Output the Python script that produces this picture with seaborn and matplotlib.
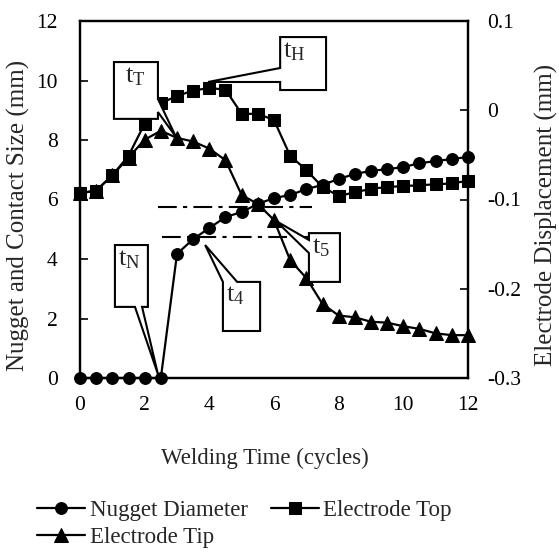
import numpy as np
import pandas as pd
import matplotlib
matplotlib.use("Agg")
import matplotlib.pyplot as plt
from matplotlib.patches import Polygon
import seaborn as sns

# ---- data -------------------------------------------------------------
cycles = [0, 0.5, 1, 1.5, 2, 2.5, 3, 3.5, 4, 4.5, 5, 5.5, 6, 6.5, 7, 7.5,
          8, 8.5, 9, 9.5, 10, 10.5, 11, 11.5, 12]
nugget_diameter = [0, 0, 0, 0, 0, 0, 4.17, 4.67, 5.04, 5.41, 5.58, 5.85,
                   6.05, 6.15, 6.35, 6.49, 6.69, 6.86, 6.96, 7.02, 7.09,
                   7.22, 7.29, 7.36, 7.43]
electrode_top = [-0.093, -0.090, -0.073, -0.051, -0.015, 0.008, 0.016,
                 0.022, 0.025, 0.023, -0.004, -0.004, -0.011, -0.051,
                 -0.067, -0.086, -0.096, -0.092, -0.088, -0.086, -0.085,
                 -0.084, -0.083, -0.082, -0.079]
electrode_tip = [-0.093, -0.090, -0.073, -0.053, -0.033, -0.023, -0.031,
                 -0.035, -0.043, -0.056, -0.095, -0.105, -0.123, -0.168,
                 -0.188, -0.217, -0.230, -0.232, -0.237, -0.238, -0.242,
                 -0.245, -0.250, -0.252, -0.252]

x_ticks = [0, 2, 4, 6, 8, 10, 12]
left_ticks = [0, 2, 4, 6, 8, 10, 12]
right_ticks = [-0.3, -0.2, -0.1, 0, 0.1]
right_tick_labels = ["-0.3", "-0.2", "-0.1", "0", "0.1"]

# reference nugget sizes (dash-dot guides)
guide_levels = [4.74, 5.75]
guide_spans = [(2.54, 7.2), (2.41, 7.18)]

# callouts: label, box (x0, x1, y0, y1), side, wedge base, tip
callouts = [
    ("T", (1.05, 2.41, 8.71, 10.62), "right", (8.94, 9.38), (2.97, 8.10)),
    ("H", (6.19, 7.61, 9.68, 11.46), "left", (9.95, 10.42), (3.96, 9.95)),
    ("N", (1.08, 2.10, 2.39, 4.47), "bottom", (1.70, 1.92), (2.41, 0.13)),
    ("4", (4.42, 5.57, 1.58, 3.23), "top", (4.42, 4.86), (3.87, 4.47)),
    ("5", (7.08, 8.04, 3.23, 4.87), "left", (4.20, 4.64), (6.06, 5.28)),
]

df = pd.DataFrame({"cycles": cycles, "nugget": nugget_diameter,
                   "top": electrode_top, "tip": electrode_tip})

# ---- style ------------------------------------------------------------
sns.set_theme(style="white")
plt.rcParams["font.family"] = ["Liberation Serif", "DejaVu Serif"]
plt.rcParams["mathtext.fontset"] = "custom"
plt.rcParams["mathtext.rm"] = "Liberation Serif"
plt.rcParams["axes.unicode_minus"] = False

fig = plt.figure(figsize=(5.59, 5.54), dpi=100)
ax = fig.add_axes([80 / 559, 1 - 378 / 554, 388 / 559, 357 / 554])
ax2 = ax.twinx()

line_kw = dict(color="black", linewidth=1.6, markersize=8.5,
               markeredgecolor="black", clip_on=False, errorbar=None)

sns.lineplot(data=df, x="cycles", y="nugget", marker="o", ax=ax, zorder=4,
             **line_kw)
h_nugget = ax.lines[-1]
sns.lineplot(data=df, x="cycles", y="top", marker="s", ax=ax2, zorder=4,
             **line_kw)
h_top = ax2.lines[-1]
sns.lineplot(data=df, x="cycles", y="tip", marker="^", ax=ax2, zorder=4,
             **{**line_kw, "markersize": 9.5})
h_tip = ax2.lines[-1]

# dash-dot guide lines
for level, (x0, x1) in zip(guide_levels, guide_spans):
    ax.plot([x0, x1], [level, level], color="black", linewidth=1.5,
            linestyle=(0, (9, 3, 2, 3)), zorder=3)

# axes ranges and ticks
ax.set_xlim(0, 12)
ax.set_ylim(0, 12)
ax2.set_ylim(-0.3, 0.1)
ax.set_xticks(x_ticks)
ax.set_yticks(left_ticks)
ax2.set_yticks(right_ticks)
ax2.set_yticklabels(right_tick_labels)

for a in (ax, ax2):
    for s in a.spines.values():
        s.set_linewidth(1.6)
        s.set_color("black")
ax.tick_params(axis="both", direction="in", length=6, width=1.2,
               labelsize=15.5, pad=16, colors="black")
ax.tick_params(axis="x", pad=13)
ax2.tick_params(axis="y", direction="in", length=6, width=1.2,
                labelsize=15.5, pad=14, colors="black")

ax.set_xlabel("Welding Time (cycles)", fontsize=16.5, va="center")
ax.xaxis.set_label_coords((265 - 80) / 388, -(458 - 378) / 357)
ax.set_ylabel("Nugget and Contact Size (mm)", fontsize=18, va="center")
ax.yaxis.set_label_coords(-(80 - 18) / 388, 1 - (215 - 21) / 357)
ax2.set_ylabel("Electrode Displacement (mm)", fontsize=18, va="center")
ax2.yaxis.set_label_coords((546 - 80) / 388, 1 - (215 - 21) / 357)

# callout boxes with wedge pointers
for name, (x0, x1, y0, y1), side, (b_lo, b_hi), tip in callouts:
    pts = [(x0, y0)]
    if side == "bottom":
        pts += [(b_lo, y0), tip, (b_hi, y0)]
    pts.append((x1, y0))
    if side == "right":
        pts += [(x1, b_lo), tip, (x1, b_hi)]
    pts.append((x1, y1))
    if side == "top":
        pts += [(b_hi, y1), tip, (b_lo, y1)]
    pts.append((x0, y1))
    if side == "left":
        pts += [(x0, b_hi), tip, (x0, b_lo)]
    poly = Polygon(pts, closed=True, facecolor="white", edgecolor="black",
                   linewidth=1.5, transform=ax.transData, zorder=6,
                   clip_on=False)
    ax2.add_patch(poly)
    dx = 0.33 if name == "T" else 0.1
    ax2.text(x0 + dx, y1 - 0.1, r"$\mathregular{t_{%s}}$" % name,
             transform=ax.transData, ha="left", va="top", fontsize=19,
             zorder=7)

# legend
fig.legend([h_nugget, h_tip, h_top],
           ["Nugget Diameter", "Electrode Tip", "Electrode Top"],
           loc="upper left", bbox_to_anchor=(37 / 559, 1 - 500 / 554),
           ncol=2, frameon=False, fontsize=16.5, borderpad=0,
           borderaxespad=0, handlelength=2.1, handletextpad=0.2,
           columnspacing=1.0, labelspacing=0.25, numpoints=1)

fig.savefig("out.png", dpi=100)
